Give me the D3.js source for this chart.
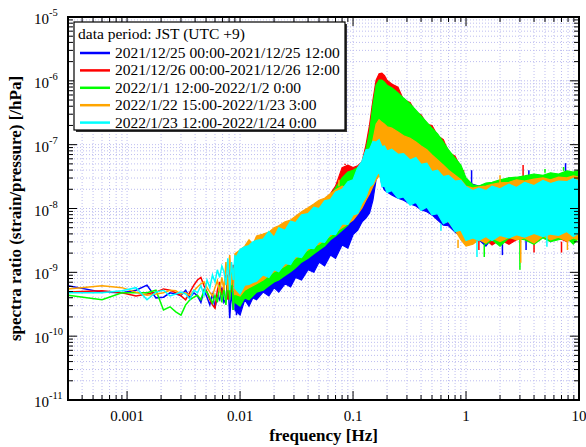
<!DOCTYPE html>
<html>
<head>
<meta charset="utf-8">
<script src="https://cdn.jsdelivr.net/npm/d3@7"></script>
<style>
  body { margin: 0; background: #fff; }
  svg text { font-family: "Liberation Serif", "Times New Roman", "DejaVu Serif", serif; fill: #000; }
</style>
</head>
<body>
<div id="chart"></div>
<script>
"use strict";

// low frequency part, single points (log10 of spectra ratio)
var lowFreq = [0.0003,0.0006,0.0009,0.0012,0.0015,0.0018,0.0021,0.0024,0.0027,0.003,0.0033,0.0036,
               0.0039,0.0042,0.0045,0.0048,0.0051,0.0054,0.0057,0.006,0.0063,0.0066,0.0069,0.0072,
               0.0075,0.0078,0.0081,0.0084,0.0087,0.009,0.0093,0.0096,0.0099];
var blueLow   = [-9.21,-9.31,-9.32,-9.28,-9.20,-9.40,-9.39,-9.32,-9.34,-9.36,-9.28,-9.40,-9.32,-9.37,-9.47,-9.28,-9.39,-9.51,-9.32,-9.56,-9.37,-9.43,-9.24,-9.47,
                 -9.43,-9.04,-9.72,-9.28,-9.59,-9.12,-9.67,-9.20,-9.43];
var redLow    = [-9.31,-9.29,-9.32,-9.37,-9.34,-9.31,-9.26,-9.28,-9.32,-9.37,-9.43,-9.31,-9.20,-9.12,-9.08,-9.21,-9.31,-9.43,-9.51,-9.56,-9.28,-9.15,-9.36,-9.20,
                 -9.04,-9.43,-8.93,-9.31,-8.88,-9.37,-9.12,-8.84,-9.28];
var greenLow  = [-9.36,-9.43,-9.32,-9.32,-9.32,-9.28,-9.59,-9.54,-9.62,-9.67,-9.51,-9.43,-9.39,-9.36,-9.43,-9.28,-9.31,-9.40,-9.48,-9.36,-9.47,-9.20,-9.47,-9.24,
                 -9.51,-9.12,-9.43,-8.96,-9.59,-9.20,-9.36,-8.93,-9.47];
var orangeLow = [-9.26,-9.21,-9.24,-9.31,-9.36,-9.34,-9.32,-9.28,-9.29,-9.34,-9.32,-9.36,-9.29,-9.23,-9.18,-9.15,-9.24,-9.31,-9.37,-9.24,-9.13,-9.31,-9.08,-9.28,
                 -8.84,-9.28,-8.73,-9.20,-8.93,-9.36,-8.78,-9.12,-8.68];
var cyanLow   = [-9.32,-9.32,-9.29,-9.24,-9.43,-9.31,-9.28,-9.37,-9.34,-9.31,-9.34,-9.42,-9.28,-9.32,-9.21,-9.36,-9.12,-9.24,-9.04,-9.15,-8.96,-9.08,-8.90,-8.99,
                 -9.20,-8.78,-9.28,-8.84,-9.12,-8.73,-9.04,-8.88,-9.18];

// dense part: upper and lower envelope of each spectrum (log10)
var bandFreq = [0.009,0.01,0.011,0.012,0.013,0.014,0.016,0.018,0.02,0.022,0.025,0.028,0.031,
                0.035,0.04,0.045,0.05,0.056,0.063,0.07,0.08,0.09,0.1,0.11,0.12,0.13,0.14,0.15,0.16,0.17,0.18,0.19,
                0.2,0.22,0.25,0.28,0.32,0.36,0.4,0.45,0.5,0.56,0.63,0.7,0.8,0.9,1.0,1.15,1.3,1.5,1.7,2.0,2.4,2.8,
                3.3,4.0,4.8,5.6,6.6,7.8,8.9,10];

var blueTop = [-9.08,-8.96,-8.93,-8.84,-8.90,-8.81,-8.74,-8.68,-8.65,-8.59,-8.52,-8.49,-8.43,
               -8.37,-8.30,-8.24,-8.18,-8.15,-8.05,-7.99,-7.93,-7.87,-7.77,-7.71,-7.62,-7.55,-7.49,-7.08,-6.65,-6.69,
               -6.93,-7.01,-7.05,-7.08,-7.08,-7.13,-7.16,-7.21,-7.24,-7.29,-7.33,-7.40,-7.43,-7.46,-7.49,-7.55,-7.59,
               -7.62,-7.65,-7.62,-7.60,-7.59,-7.52,-7.57,-7.55,-7.49,-7.52,-7.51,-7.49,-7.50,-7.49,-7.48];
var blueBottom = [-9.59,-9.67,-9.43,-9.53,-9.40,-9.43,-9.31,-9.37,-9.24,-9.31,-9.18,-9.23,-9.08,
                  -9.12,-8.96,-9.00,-8.84,-8.90,-8.73,-8.78,-8.57,-8.62,-8.41,-8.34,-8.21,-8.15,-8.07,-7.87,-7.55,-7.40,
                  -7.63,-7.71,-7.74,-7.79,-7.84,-7.87,-7.93,-7.96,-8.02,-8.05,-8.10,-8.18,-8.26,-8.27,-8.37,-8.43,-8.49,
                  -8.54,-8.49,-8.59,-8.46,-8.52,-8.46,-8.47,-8.43,-8.49,-8.41,-8.52,-8.43,-8.46,-8.49,-8.43];

var redTop = [-8.84,-8.78,-8.73,-8.68,-8.65,-8.59,-8.52,-8.43,-8.37,-8.41,-8.34,-8.27,-8.21,
              -8.18,-8.09,-8.02,-7.93,-7.87,-7.77,-7.65,-7.36,-7.32,-7.36,-7.33,-7.27,-7.01,-6.69,-6.30,-5.99,-5.89,
              -5.88,-5.92,-5.99,-6.05,-6.10,-6.30,-6.34,-6.50,-6.53,-6.68,-6.70,-6.86,-6.92,-7.12,-7.18,-7.36,-7.55,
              -7.66,-7.68,-7.64,-7.63,-7.60,-7.57,-7.58,-7.55,-7.54,-7.53,-7.52,-7.51,-7.50,-7.48,-7.49];
var redBottom = [-9.40,-9.43,-9.37,-9.31,-9.34,-9.24,-9.21,-9.15,-9.04,-9.08,-8.96,-8.88,-8.84,
                 -8.78,-8.68,-8.65,-8.57,-8.52,-8.46,-8.37,-8.26,-8.21,-8.10,-8.02,-7.87,-7.71,-7.55,-7.40,-7.24,-7.08,
                 -7.05,-7.08,-7.11,-7.16,-7.21,-7.27,-7.32,-7.40,-7.43,-7.49,-7.55,-7.63,-7.71,-7.79,-7.87,-8.02,-8.26,
                 -8.46,-8.47,-8.49,-8.57,-8.49,-8.56,-8.49,-8.46,-8.52,-8.43,-8.47,-8.46,-8.52,-8.46,-8.49];

var greenTop = [-8.87,-8.84,-8.78,-8.73,-8.68,-8.62,-8.59,-8.49,-8.46,-8.43,-8.37,-8.30,-8.24,
                -8.18,-8.12,-8.05,-7.96,-7.90,-7.80,-7.68,-7.52,-7.43,-7.40,-7.36,-7.29,-7.08,-6.80,-6.38,-6.07,-5.99,
                -5.99,-6.02,-6.07,-6.11,-6.19,-6.27,-6.36,-6.46,-6.55,-6.65,-6.74,-6.83,-6.96,-7.08,-7.21,-7.32,-7.52,
                -7.63,-7.65,-7.60,-7.59,-7.55,-7.52,-7.51,-7.49,-7.46,-7.48,-7.44,-7.46,-7.41,-7.43,-7.40];
var greenBottom = [-9.47,-9.53,-9.40,-9.43,-9.37,-9.31,-9.28,-9.21,-9.15,-9.12,-9.05,-8.99,-8.93,
                   -8.84,-8.78,-8.71,-8.65,-8.59,-8.49,-8.43,-8.34,-8.26,-8.15,-8.05,-7.95,-7.79,-7.59,-7.43,-7.32,-7.08,
                   -7.01,-7.05,-7.08,-7.11,-7.16,-7.24,-7.27,-7.33,-7.40,-7.46,-7.52,-7.59,-7.68,-7.77,-7.87,-8.02,-8.30,
                   -8.49,-8.46,-8.56,-8.49,-8.59,-8.46,-8.47,-8.49,-8.56,-8.46,-8.52,-8.49,-8.46,-8.56,-8.46];

var orangeTop = [-8.71,-8.65,-8.59,-8.49,-8.56,-8.43,-8.40,-8.37,-8.30,-8.27,-8.21,-8.18,-8.12,
                 -8.05,-7.99,-7.93,-7.87,-7.84,-7.77,-7.71,-7.65,-7.68,-7.59,-7.52,-7.43,-7.32,-7.21,-6.93,-6.68,-6.61,
                 -6.65,-6.68,-6.72,-6.74,-6.80,-6.86,-6.90,-6.96,-7.02,-7.08,-7.16,-7.24,-7.32,-7.40,-7.48,-7.55,-7.65,
                 -7.68,-7.66,-7.65,-7.62,-7.60,-7.59,-7.55,-7.57,-7.54,-7.52,-7.55,-7.51,-7.52,-7.49,-7.51];
var orangeBottom = [-9.34,-9.37,-9.28,-9.24,-9.21,-9.18,-9.12,-9.05,-8.99,-8.96,-8.90,-8.84,-8.78,
                    -8.71,-8.65,-8.59,-8.56,-8.49,-8.43,-8.37,-8.30,-8.24,-8.18,-8.09,-7.99,-7.87,-7.77,-7.65,-7.55,-7.49,
                    -7.52,-7.55,-7.59,-7.62,-7.65,-7.71,-7.74,-7.80,-7.84,-7.90,-7.96,-8.02,-8.12,-8.21,-8.34,-8.49,-8.59,
                    -8.56,-8.49,-8.54,-8.46,-8.52,-8.45,-8.49,-8.46,-8.54,-8.43,-8.49,-8.45,-8.51,-8.46,-8.49];

var cyanTop = [-8.80,-8.64,-8.60,-8.58,-8.52,-8.50,-8.48,-8.36,-8.45,-8.30,-8.34,-8.20,-8.22,
               -8.10,-8.08,-7.98,-8.00,-7.88,-7.86,-7.74,-7.70,-7.58,-7.55,-7.36,-7.26,-7.08,-7.07,-6.95,-6.96,-6.92,
               -7.03,-7.02,-7.10,-7.07,-7.15,-7.14,-7.24,-7.20,-7.31,-7.29,-7.42,-7.40,-7.50,-7.48,-7.57,-7.56,-7.66,
               -7.72,-7.68,-7.72,-7.65,-7.69,-7.62,-7.67,-7.59,-7.64,-7.56,-7.61,-7.57,-7.58,-7.53,-7.57];
var cyanBottom = [-9.25,-9.34,-9.20,-9.19,-9.16,-9.14,-9.04,-9.08,-8.96,-8.99,-8.86,-8.88,-8.75,
                  -8.77,-8.62,-8.63,-8.52,-8.53,-8.40,-8.41,-8.24,-8.25,-8.10,-8.08,-7.92,-7.82,-7.66,-7.62,-7.50,-7.42,
                  -7.66,-7.65,-7.75,-7.72,-7.84,-7.82,-7.95,-7.90,-8.03,-7.98,-8.10,-8.08,-8.24,-8.20,-8.36,-8.34,-8.50,
                  -8.46,-8.50,-8.44,-8.50,-8.42,-8.46,-8.41,-8.45,-8.39,-8.44,-8.40,-8.42,-8.36,-8.44,-8.38];

// single outlying points [frequency, log10 ratio]
var blueSpikes   = [[1.12,-7.40],[3.6,-7.40],[7.6,-7.29],[2.1,-8.73],[3.4,-8.65]];
var redSpikes    = [[3.2,-7.32],[0.95,-7.40],[1.3,-8.65],[4.0,-8.69],[7.0,-8.69],[0.085,-7.30]];
var greenSpikes  = [[3.0,-8.96],[1.45,-8.76],[7.3,-7.35],[5.0,-7.38]];
var orangeSpikes = [[2.0,-7.48],[7.9,-8.65],[3.05,-8.85],[0.85,-8.62],[0.075,-7.55]];
var cyanSpikes   = [[1.25,-8.76],[5.2,-8.60],[0.6,-8.35]];

var seriesNames = ["2021/12/25 00:00-2021/12/25 12:00",
                   "2021/12/26 00:00-2021/12/26 12:00",
                   "2022/1/1 12:00-2022/1/2 0:00",
                   "2022/1/22 15:00-2022/1/23 3:00",
                   "2022/1/23 12:00-2022/1/24 0:00"];
var seriesColors = ["#0000ff", "#ff0000", "#00ff00", "#ffa500", "#00ffff"];
var xTickLabels = [0.001, 0.01, 0.1, 1, 10];
var yTickExps = [-5, -6, -7, -8, -9, -10, -11];

var series = [
	{ name: seriesNames[0], color: seriesColors[0], low: blueLow, top: blueTop, bottom: blueBottom, spikes: blueSpikes },
	{ name: seriesNames[1], color: seriesColors[1], low: redLow, top: redTop, bottom: redBottom, spikes: redSpikes },
	{ name: seriesNames[2], color: seriesColors[2], low: greenLow, top: greenTop, bottom: greenBottom, spikes: greenSpikes },
	{ name: seriesNames[3], color: seriesColors[3], low: orangeLow, top: orangeTop, bottom: orangeBottom, spikes: orangeSpikes },
	{ name: seriesNames[4], color: seriesColors[4], low: cyanLow, top: cyanTop, bottom: cyanBottom, spikes: cyanSpikes }
];

var width = 586, height = 447;
var pLeft = 68, pRight = 579, pTop = 17, pBottom = 400;
var serif = "'Liberation Serif', 'Times New Roman', 'DejaVu Serif', serif";

var svg = d3.select("#chart").append("svg")
	.attr("width", width)
	.attr("height", height)
	.attr("font-family", serif);

var x = d3.scaleLog().domain([0.0003, 10]).range([pLeft, pRight]);
var y = d3.scaleLog().domain([1e-11, 1e-5]).range([pBottom, pTop]);

function isMajor(v) {
	var l = Math.log10(v);
	return Math.abs(l - Math.round(l)) < 1e-6;
}

// grid
var grid = svg.append("g").attr("class", "grid");
x.ticks().forEach(function(t) {
	grid.append("line")
		.attr("x1", x(t)).attr("x2", x(t))
		.attr("y1", pTop).attr("y2", pBottom)
		.attr("stroke", "#bdbdf0").attr("stroke-width", 1)
		.attr("stroke-dasharray", "1,2");
});
y.ticks().forEach(function(t) {
	grid.append("line")
		.attr("x1", pLeft).attr("x2", pRight)
		.attr("y1", y(t)).attr("y2", y(t))
		.attr("stroke", "#bdbdf0").attr("stroke-width", 1)
		.attr("stroke-dasharray", "1,2");
});

// data
svg.append("clipPath").attr("id", "clip")
	.append("rect").attr("x", pLeft).attr("y", pTop)
	.attr("width", pRight - pLeft).attr("height", pBottom - pTop);
var plot = svg.append("g").attr("clip-path", "url(#clip)");

var area = d3.area()
	.x(function(d) { return x(d.f); })
	.y0(function(d) { return y(d.lo); })
	.y1(function(d) { return y(d.hi); });
var line = d3.line()
	.x(function(d) { return x(d.f); })
	.y(function(d) { return y(d.v); });

series.forEach(function(s) {
	var band = bandFreq.map(function(f, i) {
		return { f: f, lo: Math.pow(10, s.bottom[i]), hi: Math.pow(10, s.top[i]) };
	});
	plot.append("path").datum(band)
		.attr("d", area)
		.attr("fill", s.color)
		.attr("stroke", s.color)
		.attr("stroke-width", 1.2)
		.attr("stroke-linejoin", "miter");

	var low = lowFreq.map(function(f, i) { return { f: f, v: Math.pow(10, s.low[i]) }; });
	plot.append("path").datum(low)
		.attr("d", line)
		.attr("fill", "none")
		.attr("stroke", s.color)
		.attr("stroke-width", 1.5);

	// outliers drawn as thin spikes leaving the band
	s.spikes.forEach(function(p) {
		var i = d3.bisectLeft(bandFreq, p[0]);
		if (i >= bandFreq.length) i = bandFreq.length - 1;
		var base = p[1] > s.top[i] ? s.top[i] : s.bottom[i];
		plot.append("line")
			.attr("x1", x(p[0])).attr("x2", x(p[0]))
			.attr("y1", y(Math.pow(10, base))).attr("y2", y(Math.pow(10, p[1])))
			.attr("stroke", s.color).attr("stroke-width", 1.5);
	});
});

// ticks on all four sides, pointing inward
var ticks = svg.append("g").attr("stroke", "#000").attr("stroke-width", 1);
x.ticks().forEach(function(t) {
	var len = isMajor(t) ? 9 : 5;
	ticks.append("line").attr("x1", x(t)).attr("x2", x(t)).attr("y1", pBottom).attr("y2", pBottom - len);
	ticks.append("line").attr("x1", x(t)).attr("x2", x(t)).attr("y1", pTop).attr("y2", pTop + len);
});
y.ticks().forEach(function(t) {
	var len = isMajor(t) ? 9 : 5;
	ticks.append("line").attr("x1", pLeft).attr("x2", pLeft + len).attr("y1", y(t)).attr("y2", y(t));
	ticks.append("line").attr("x1", pRight).attr("x2", pRight - len).attr("y1", y(t)).attr("y2", y(t));
});

svg.append("rect")
	.attr("x", pLeft).attr("y", pTop)
	.attr("width", pRight - pLeft).attr("height", pBottom - pTop)
	.attr("fill", "none").attr("stroke", "#000").attr("stroke-width", 2);

// x labels
xTickLabels.forEach(function(t) {
	svg.append("text")
		.attr("x", x(t)).attr("y", 421)
		.attr("text-anchor", "middle")
		.style("font-size", "15px")
		.text(t);
});

// y labels 10^n
yTickExps.forEach(function(e) {
	var tx = svg.append("text")
		.attr("x", 34).attr("y", y(Math.pow(10, e)) + 7)
		.style("font-size", "15px");
	tx.append("tspan").text("10");
	tx.append("tspan").attr("dy", -8).style("font-size", "10.5px").text(e);
});

svg.append("text")
	.attr("x", (pLeft + pRight) / 2).attr("y", 441)
	.attr("text-anchor", "middle")
	.style("font-size", "17px").style("font-weight", "bold")
	.text("frequency [Hz]");

svg.append("text")
	.attr("transform", "translate(21," + ((pTop + pBottom) / 2) + ") rotate(-90)")
	.attr("text-anchor", "middle")
	.style("font-size", "17px").style("font-weight", "bold")
	.text("spectra ratio (strain/pressure) [/hPa]");

// legend
var legend = svg.append("g");
legend.append("rect")
	.attr("x", 76).attr("y", 24).attr("width", 271).attr("height", 108)
	.attr("fill", "#333");
legend.append("rect")
	.attr("x", 74).attr("y", 22).attr("width", 271).attr("height", 108)
	.attr("fill", "#fff").attr("stroke", "#000").attr("stroke-width", 1.2);
legend.append("text")
	.attr("x", 78).attr("y", 39)
	.style("font-size", "15.5px")
	.text("data period: JST (UTC +9)");
series.forEach(function(s, i) {
	var ly = 53 + i * 17.4;
	legend.append("line")
		.attr("x1", 80).attr("x2", 110).attr("y1", ly).attr("y2", ly)
		.attr("stroke", s.color).attr("stroke-width", 2.5);
	legend.append("text")
		.attr("x", 115).attr("y", ly + 5)
		.style("font-size", "15.5px")
		.text(s.name);
});
</script>
</body>
</html>
